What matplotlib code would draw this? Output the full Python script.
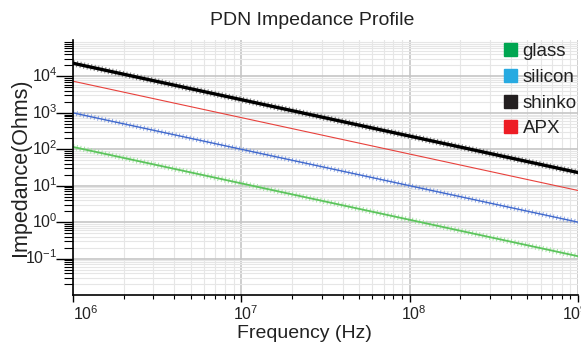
import matplotlib
matplotlib.use("Agg")
import matplotlib.pyplot as plt
import matplotlib.transforms as mtransforms
from matplotlib.patches import Rectangle
from matplotlib.ticker import FixedLocator, LogLocator, NullFormatter

plt.rcParams["font.family"] = ["Liberation Sans", "DejaVu Sans"]
plt.rcParams["mathtext.fontset"] = "custom"
plt.rcParams["mathtext.rm"] = "Liberation Sans"
plt.rcParams["lines.scale_dashes"] = False

# values at each decade
freq_hz = [1e6, 1e7, 1e8, 1e9]
glass_ohms = [116, 11.6, 1.16, 0.116]
silicon_ohms = [1000, 100, 10, 1.0]
shinko_ohms = [23000, 2300, 230, 23]
apx_ohms = [7400, 740, 74, 7.4]

x_ticks = [1e6, 1e7, 1e8, 1e9]
x_tick_labels = [r"$\mathregular{10^{6}}$", r"$\mathregular{10^{7}}$",
                 r"$\mathregular{10^{8}}$", r"$\mathregular{10^{9}}$"]
y_ticks = [1e-1, 1e0, 1e1, 1e2, 1e3, 1e4]
y_tick_labels = [r"$\mathregular{10^{-1}}$", r"$\mathregular{10^{0}}$",
                 r"$\mathregular{10^{1}}$", r"$\mathregular{10^{2}}$",
                 r"$\mathregular{10^{3}}$", r"$\mathregular{10^{4}}$"]

legend_names = ["glass", "silicon", "shinko", "APX"]
legend_colors = ["#00a651", "#27aae1", "#231f20", "#ed1c24"]

W, H = 581, 347
fig = plt.figure(figsize=(W / 100, H / 100), dpi=100)
ax = fig.add_axes([73 / W, 52 / H, 505 / W, 255 / H])
ax.set_xscale("log")
ax.set_yscale("log")
ax.set_xlim(1e6, 1e9)
ax.set_ylim(1e-2, 1e5)

# grid
ax.grid(which="major", color="#c6c6c6", lw=1.2)
ax.grid(which="minor", color="#e6e6e6", lw=0.8)
ax.set_axisbelow(True)

# glass: green line with light '+' texture
ax.plot(freq_hz, glass_ohms, color="#a6e3a6", lw=4, dashes=(0.7, 1.9))
ax.plot(freq_hz, glass_ohms, color="#5cc45c", lw=1.3)
# silicon
ax.plot(freq_hz, silicon_ohms, color="#7f9be0", lw=3.6, dashes=(0.6, 2.0))
ax.plot(freq_hz, silicon_ohms, color="#3f68cc", lw=1.0)
# shinko
ax.plot(freq_hz, shinko_ohms, color="#8a8a8a", lw=4.6, dashes=(0.8, 1.8))
ax.plot(freq_hz, shinko_ohms, color="#000000", lw=2.4)
# APX
ax.plot(freq_hz, apx_ohms, color="#e8413c", lw=0.8)

# axes styling
for side in ["top", "right"]:
    ax.spines[side].set_visible(False)
for side in ["left", "bottom"]:
    ax.spines[side].set_linewidth(1.2)

ax.xaxis.set_major_locator(FixedLocator(x_ticks))
ax.xaxis.set_minor_locator(LogLocator(base=10, subs=range(2, 10)))
ax.xaxis.set_minor_formatter(NullFormatter())
ax.set_xticklabels(x_tick_labels)
ax.yaxis.set_major_locator(FixedLocator(y_ticks))
ax.yaxis.set_minor_locator(LogLocator(base=10, subs=range(2, 10)))
ax.yaxis.set_minor_formatter(NullFormatter())
ax.set_yticklabels(y_tick_labels)

ax.tick_params(axis="x", which="major", length=5, width=1, pad=2,
               labelsize=11.5, labelcolor="#222222")
ax.tick_params(axis="x", which="minor", length=3, width=0.8)
ax.tick_params(axis="y", which="major", length=12, width=1, pad=-0.7,
               labelsize=11.5, labelcolor="#222222")
ax.tick_params(axis="y", which="minor", length=6.5, width=0.8)

# x labels: "10" centred on its tick, edge labels pulled inside
px = 0.72 / 72
x_shifts = [(0, "left"), (4, "center"), (4, "center"), (-16, "left")]
for lab, (dx, ha) in zip(ax.get_xticklabels(), x_shifts):
    lab.set_ha(ha)
    lab.set_transform(lab.get_transform() +
                      mtransforms.ScaledTranslation(dx * px, 0, fig.dpi_scale_trans))
for lab in ax.get_yticklabels():
    lab.set_transform(lab.get_transform() +
                      mtransforms.ScaledTranslation(0, 2 * px, fig.dpi_scale_trans))

ax.set_ylabel("Impedance(Ohms)", fontsize=15.5, color="#222222")
ax.yaxis.set_label_coords((31 - 73) / 505, 0.5)
fig.text(304 / W, 1 - 338 / H, "Frequency (Hz)", fontsize=14, color="#222222",
         ha="center", va="baseline")
fig.text(312.6 / W, 1 - 25 / H, "PDN Impedance Profile", fontsize=14,
         color="#222222", ha="center", va="baseline")

# legend: coloured squares with labels, no frame
for i, (name, col) in enumerate(zip(legend_names, legend_colors)):
    yc = 49.5 + i * 25.8
    fig.patches.append(Rectangle((504 / W, 1 - (yc + 6.5) / H), 13 / W, 13 / H,
                                 transform=fig.transFigure, color=col))
    fig.text(522.5 / W, 1 - (yc + 6.5) / H, name, fontsize=13.5,
             color="#222222", ha="left", va="baseline")

fig.savefig("out.png", dpi=100)
